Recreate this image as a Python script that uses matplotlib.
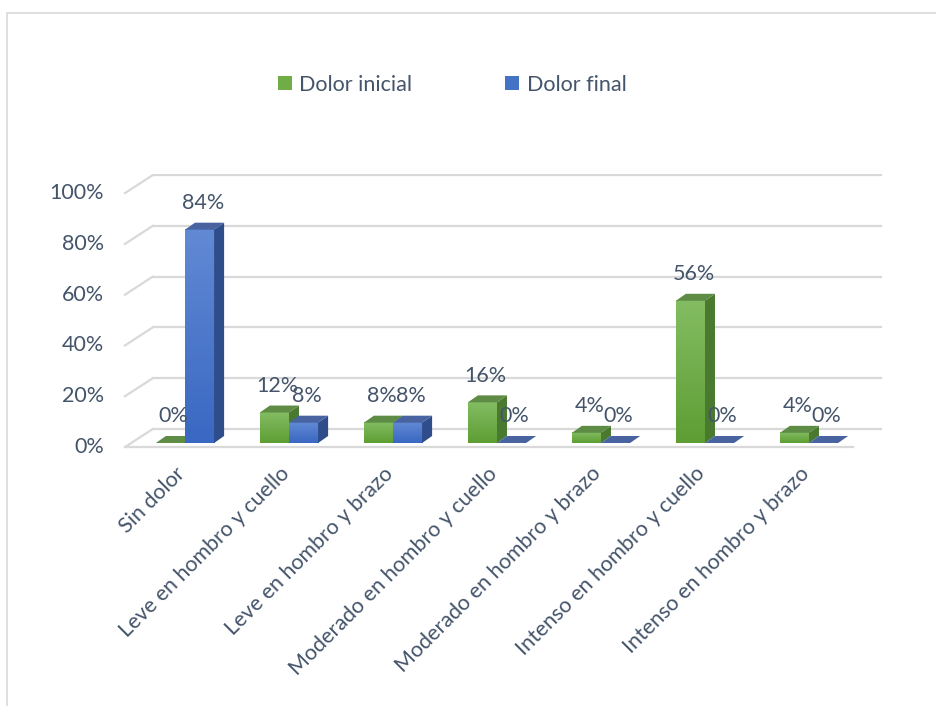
# Dolor inicial vs final - 3D style column chart
import matplotlib.pyplot as plt
from matplotlib.patches import Polygon, Patch, Rectangle
from matplotlib.colors import to_rgb
import numpy as np

# Data
categories = ['Sin dolor', 'Leve en hombro y cuello', 'Leve en hombro y brazo',
              'Moderado en hombro y cuello', 'Moderado en hombro y brazo',
              'Intenso en hombro y cuello', 'Intenso en hombro y brazo']
dolor_inicial = [0, 12, 8, 16, 4, 56, 4]
dolor_final = [84, 8, 8, 0, 0, 0, 0]
yticks = [0, 20, 40, 60, 80, 100]
series_names = ['Dolor inicial', 'Dolor final']

plt.rcParams['font.family'] = ['Lato', 'DejaVu Sans']
txt_color = '#44546A'
grid_color = '#D9D9D9'
fs = 15.5

# face colours: (front top, front bottom, top face, side face)
green = ('#83BC62', '#5E9E34', '#5E8C45', '#4A7A30')
blue = ('#6189D4', '#3A68C2', '#4863A0', '#2E4D8A')

# pseudo-3D offsets (data units)
bar_w = 0.28
bdx, bdy = 0.096, 2.75      # bar depth
wdx, wdy = 0.19, 5.5        # back wall relative to bar plane
fdx, fdy = -0.077, -1.6     # front floor edge relative to bar plane

fig = plt.figure(figsize=(9.36, 7.06), dpi=100)
ax = fig.add_axes([122.6 / 936, 1 - 450.6 / 706, 769.6 / 936, 276.8 / 706])
ax.axis('off')

n = len(categories)
x = np.arange(n)
left, right = -0.5, n - 0.5

# gridlines on back wall + diagonal on the left side wall
for v in yticks:
    ax.plot([left + wdx, right + wdx], [v + wdy, v + wdy], color=grid_color, lw=1.6, zorder=1)
    ax.plot([left + fdx, left + wdx], [v + fdy, v + wdy], color=grid_color, lw=1.6, zorder=1)
    ax.text(left + fdx - 0.2, v + fdy, f'{v}%', ha='right', va='center',
            fontsize=fs, color=txt_color)
# front floor edge
ax.plot([left + fdx, right + fdx], [fdy, fdy], color=grid_color, lw=1.6, zorder=1)


def draw_bar(x0, h, cols):
    x1 = x0 + bar_w
    if h > 0:
        c_top, c_bot = np.array(to_rgb(cols[0])), np.array(to_rgb(cols[1]))
        t = np.linspace(0, 1, 32)[:, None]
        grad = (c_top * (1 - t) + c_bot * t)[:, None, :]
        ax.imshow(grad, extent=(x0, x1, 0, h), aspect='auto', origin='upper',
                  interpolation='bilinear', zorder=3)
        side = Polygon([(x1, 0), (x1 + bdx, bdy), (x1 + bdx, h + bdy), (x1, h)],
                       closed=True, facecolor=cols[3], edgecolor='none', zorder=3)
        ax.add_patch(side)
    top = Polygon([(x0, h), (x1, h), (x1 + bdx, h + bdy), (x0 + bdx, h + bdy)],
                  closed=True, facecolor=cols[2], edgecolor='none', zorder=3)
    ax.add_patch(top)


for i in range(n):
    draw_bar(x[i] - bar_w, dolor_inicial[i], green)
    draw_bar(x[i], dolor_final[i], blue)

# data labels
for i in range(n):
    ax.text(x[i] - bar_w / 2 + 0.03, dolor_inicial[i] + 10.5, f'{dolor_inicial[i]}%',
            ha='center', va='center', fontsize=fs, color=txt_color, zorder=5)
    ax.text(x[i] + bar_w / 2 + 0.03, dolor_final[i] + 10.5, f'{dolor_final[i]}%',
            ha='center', va='center', fontsize=fs, color=txt_color, zorder=5)

# category labels
for i in range(n):
    ax.text(x[i] + fdx - 0.02, fdy - 6.5, categories[i], rotation=45,
            rotation_mode='anchor', ha='right', va='top', fontsize=fs, color=txt_color)

ax.set_xlim(-0.6, 6.8)
ax.set_ylim(-3, 106)

# legend
handles = [Patch(facecolor='#70AD47', edgecolor='none'), Patch(facecolor='#4472C4', edgecolor='none')]
leg = fig.legend(handles, series_names, loc='center', bbox_to_anchor=(0.483, 0.880), ncol=2,
                 frameon=False, fontsize=fs, handlelength=0.65, handleheight=0.65,
                 handletextpad=0.35, columnspacing=4.3)
for t in leg.get_texts():
    t.set_color(txt_color)

# chart border
fig.patches.append(Rectangle((7 / 936, -0.05), 1.0, 1 - 13 / 706 + 0.05, transform=fig.transFigure,
                             facecolor='none', edgecolor=grid_color, lw=1.2))

plt.savefig('out.png', dpi=100)
